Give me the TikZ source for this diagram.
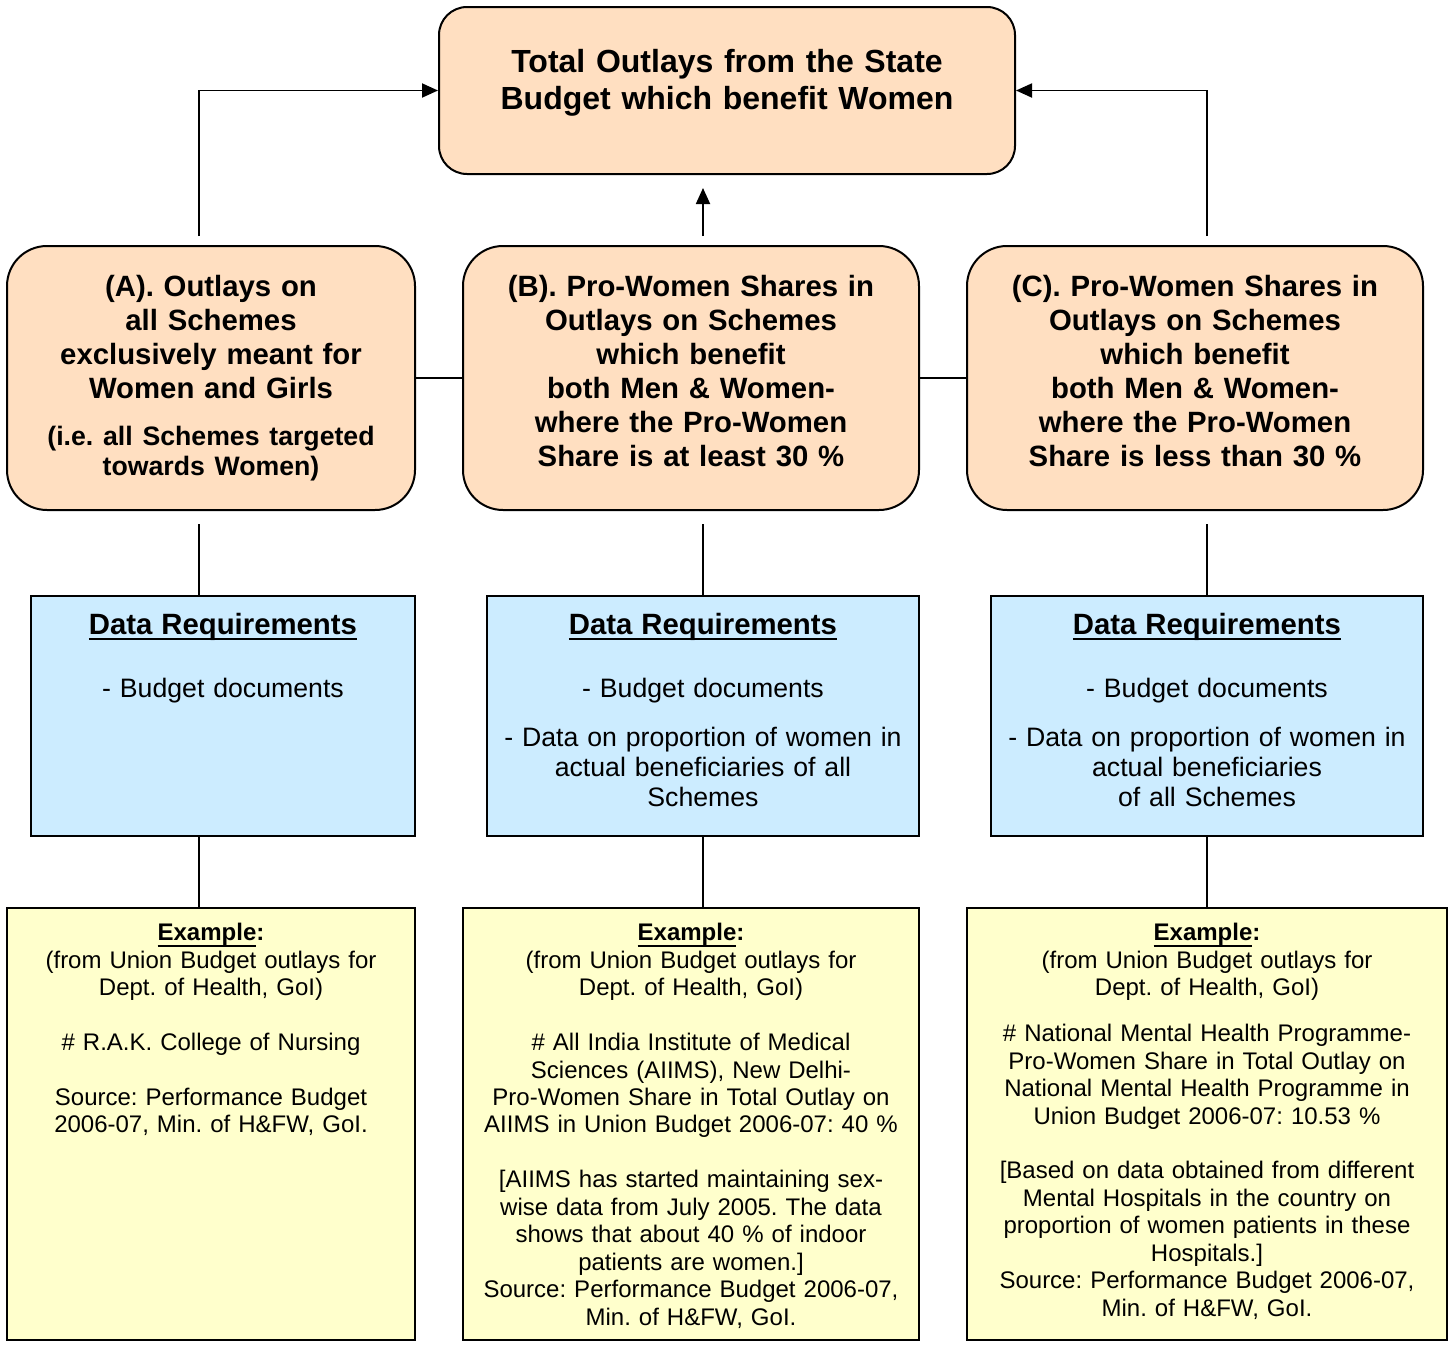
\documentclass[tikz,border=0pt]{standalone}
\usepackage{fontspec}
\setmainfont{Liberation Sans}
\usetikzlibrary{arrows.meta, calc, positioning}
\frenchspacing

\definecolor{peach}{RGB}{255,223,193}
\definecolor{paleblue}{RGB}{204,236,255}
\definecolor{paleyellow}{RGB}{255,255,204}

% thick underline, close under the baseline
\newcommand{\thickul}[1]{\setbox0\hbox{#1}\rlap{\vrule width\wd0 height -3pt depth 4.6pt}\box0}

\tikzset{
  outlay/.style={draw, line width=1.5pt, fill=peach, rounded corners=30pt, inner sep=0pt},
  datareq/.style={draw, line width=1.5pt, fill=paleblue, inner sep=0pt},
  examplebox/.style={draw, line width=1.5pt, fill=paleyellow, inner sep=0pt},
  boxtext/.style={anchor=north, inner sep=0pt, align=center},
  headfont/.style={font=\fontsize{22}{25.5}\selectfont\bfseries},
  reqfont/.style={font=\fontsize{20}{22.5}\selectfont},
  exfont/.style={font=\fontsize{18}{20.6}\selectfont},
  link/.style={line width=1.4pt},
  uparrow/.style={line width=1.4pt, -{Triangle[length=12pt,width=10.5pt]}}
}

\begin{document}
\begin{tikzpicture}[x=0.75pt, y=-0.75pt]
  \path[use as bounding box, fill=white] (0,0) rectangle (1453,1346);

  % columns of the connectors
  \coordinate (colA) at (199,0);
  \coordinate (colB) at (703,0);
  \coordinate (colC) at (1207,0);

  % total
  \node[outlay, rounded corners=21pt, minimum width=432pt, minimum height=125.25pt] (total) at (727,90.5) {};
  \node[boxtext, text width=420pt, font=\fontsize{24}{27.75}\selectfont\bfseries] (totaltxt)
    at ($(total.north)+(0,43.5)$) {Total Outlays from the State\\Budget which benefit Women};

  % outlays
  \node[outlay, minimum width=306pt, minimum height=198pt] (outA) at (211,378) {};
  \node[outlay, minimum width=342pt, minimum height=198pt] (outB) at (691,378) {};
  \node[outlay, minimum width=342pt, minimum height=198pt] (outC) at (1195,378) {};

  \node[boxtext, headfont, text width=300pt] (outAtxt) at ($(outA.north)+(0,29.5)$)
    {(A). Outlays on\\all Schemes\\exclusively meant for\\Women and Girls\\[12.75pt]
     {\fontsize{20}{22.5}\selectfont (i.e. all Schemes targeted\\[-3pt]towards Women)}};
  \node[boxtext, headfont, text width=336pt] (outBtxt) at ($(outB.north)+(0,29.5)$)
    {(B). Pro-Women Shares in\\Outlays on Schemes\\which benefit\\both Men \& Women-\\where the Pro-Women\\Share is at least 30 \%};
  \node[boxtext, headfont, text width=336pt] (outCtxt) at ($(outC.north)+(0,29.5)$)
    {(C). Pro-Women Shares in\\Outlays on Schemes\\which benefit\\both Men \& Women-\\where the Pro-Women\\Share is less than 30 \%};

  % data requirements
  \node[datareq, minimum width=288pt, minimum height=180pt] (reqA) at (223,716) {};
  \node[datareq, minimum width=324pt, minimum height=180pt] (reqB) at (703,716) {};
  \node[datareq, minimum width=324pt, minimum height=180pt] (reqC) at (1207,716) {};

  \node[boxtext, reqfont, text width=284pt] (reqAtxt) at ($(reqA.north)+(0,17.5)$)
    {{\fontsize{22}{22.5}\selectfont\bfseries\thickul{Data Requirements}}\\[24.75pt]
     - Budget documents};
  \node[boxtext, reqfont, text width=320pt] (reqBtxt) at ($(reqB.north)+(0,17.5)$)
    {{\fontsize{22}{22.5}\selectfont\bfseries\thickul{Data Requirements}}\\[24.75pt]
     - Budget documents\\[14.25pt]
     - Data on proportion of women in\\actual beneficiaries of all\\Schemes};
  \node[boxtext, reqfont, text width=320pt] (reqCtxt) at ($(reqC.north)+(0,17.5)$)
    {{\fontsize{22}{22.5}\selectfont\bfseries\thickul{Data Requirements}}\\[24.75pt]
     - Budget documents\\[14.25pt]
     - Data on proportion of women in\\actual beneficiaries\\of all Schemes};

  % examples
  \node[examplebox, minimum width=306pt, minimum height=324pt] (exA) at (211,1124) {};
  \node[examplebox, minimum width=342pt, minimum height=324pt] (exB) at (691,1124) {};
  \node[examplebox, minimum width=360pt, minimum height=324pt] (exC) at (1207,1124) {};

  \node[boxtext, exfont, text width=300pt] (exAtxt) at ($(exA.north)+(0,16)$)
    {\textbf{\thickul{Example}:}\\
     (from Union Budget outlays for\\Dept. of Health, GoI)\\[20.6pt]
     \# R.A.K. College of Nursing\\[20.6pt]
     Source: Performance Budget\\2006-07, Min. of H\&FW, GoI.};
  \node[boxtext, exfont, text width=336pt] (exBtxt) at ($(exB.north)+(0,16)$)
    {\textbf{\thickul{Example}:}\\
     (from Union Budget outlays for\\Dept. of Health, GoI)\\[20.6pt]
     \# All India Institute of Medical\\Sciences (AIIMS), New Delhi-\\
     Pro-Women Share in Total Outlay on\\AIIMS in Union Budget 2006-07: 40 \%\\[20.6pt]
     {[}AIIMS has started maintaining sex-\\wise data from July 2005. The data\\
     shows that about 40 \% of indoor\\patients are women.]\\
     Source: Performance Budget 2006-07,\\Min. of H\&FW, GoI.};
  \node[boxtext, exfont, text width=354pt] (exCtxt) at ($(exC.north)+(0,16)$)
    {\textbf{\thickul{Example}:}\\
     (from Union Budget outlays for\\Dept. of Health, GoI)\\[13.9pt]
     \# National Mental Health Programme-\\Pro-Women Share in Total Outlay on\\
     National Mental Health Programme in\\Union Budget 2006-07: 10.53 \%\\[20.6pt]
     {[}Based on data obtained from different\\Mental Hospitals in the country on\\
     proportion of women patients in these\\Hospitals.]\\
     Source: Performance Budget 2006-07,\\Min. of H\&FW, GoI.};

  % arrows into the total
  \draw[uparrow] ($(outA.north -| colA)+(0,-9)$) |- (total.west);
  \draw[uparrow] ($(outC.north -| colC)+(0,-9)$) |- (total.east);
  \draw[uparrow] ($(outB.north -| colB)+(0,-9)$) -- ($(total.south -| colB)+(0,13)$);

  % links
  \draw[link] (outA.east) -- (outB.west);
  \draw[link] (outB.east) -- (outC.west);
  \draw[link] ($(outA.south -| colA)+(0,13)$) -- (reqA.north -| colA);
  \draw[link] ($(outB.south -| colB)+(0,13)$) -- (reqB.north -| colB);
  \draw[link] ($(outC.south -| colC)+(0,13)$) -- (reqC.north -| colC);
  \draw[link] (reqA.south -| colA) -- (exA.north -| colA);
  \draw[link] (reqB.south -| colB) -- (exB.north -| colB);
  \draw[link] (reqC.south -| colC) -- (exC.north -| colC);
\end{tikzpicture}
\end{document}
